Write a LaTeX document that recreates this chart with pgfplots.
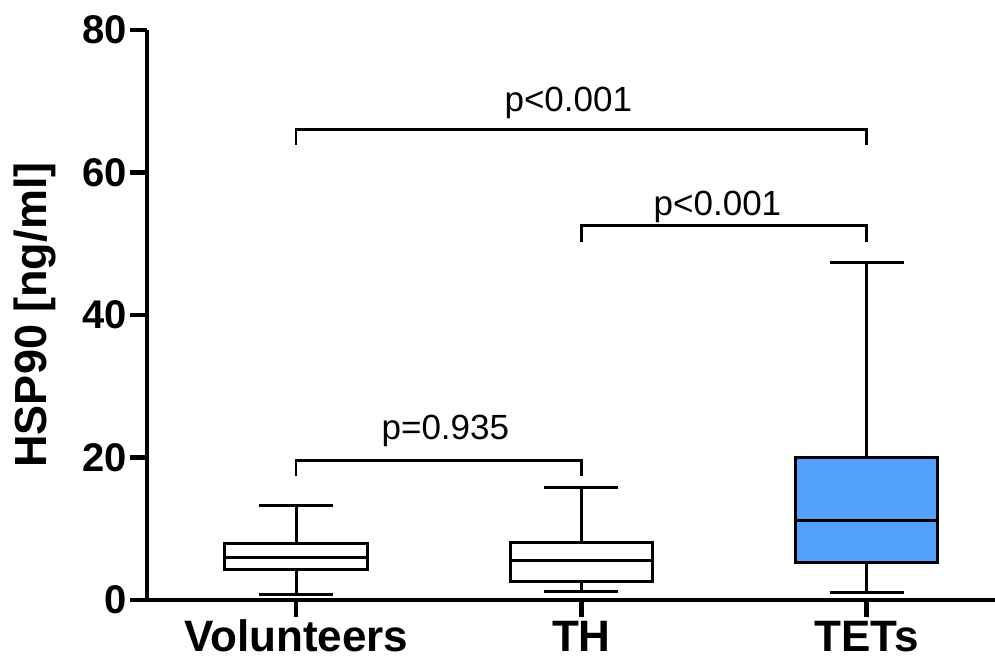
\documentclass[border=0pt]{standalone}
\usepackage{pgfplots}
\pgfplotsset{compat=1.18}
\usepgfplotslibrary{statistics}
\usetikzlibrary{calc}
\usepackage{fontspec}
\setmainfont{Liberation Sans}
\definecolor{tetblue}{RGB}{83,160,253}

\begin{document}
\begin{tikzpicture}
\begin{axis}[
    name=ax,
    scale only axis,
    width=424pt, height=285pt,
    xmin=-0.523, xmax=2.45,
    ymin=0, ymax=80,
    axis lines*=left,
    axis line style={line width=2.4pt},
    xtick={0,1,2},
    xticklabels={Volunteers,TH,TETs},
    ytick={0,20,40,60,80},
    minor tick num=0,
    tick align=outside,
    major tick length=8.5pt,
    tick style={line width=2.2pt, black},
    /pgf/number format/assume math mode=true,
    yticklabel style={font=\fontsize{20}{22}\selectfont\bfseries, inner sep=1.5pt},
    xticklabel style={font=\fontsize{22}{24}\selectfont\bfseries, inner sep=1pt,
        anchor=north, text height=16pt, text depth=0pt},
    ylabel={HSP90 [ng/ml]},
    ylabel style={font=\fontsize{22.5}{24}\selectfont\bfseries, at={(axis description cs:-0.132,0.5)}, anchor=center},
    boxplot/draw direction=y,
    boxplot/box extend=0.5,
    boxplot/whisker extend=0.26,
    clip=false,
]
\addplot[boxplot prepared={lower whisker=0.8, lower quartile=4.3, median=6.0,
    upper quartile=7.9, upper whisker=13.2, draw position=0},
    draw=black, fill=white, line width=1.5pt] coordinates {};
\addplot[boxplot prepared={lower whisker=1.2, lower quartile=2.6, median=5.5,
    upper quartile=8.0, upper whisker=15.8, draw position=1},
    draw=black, fill=white, line width=1.5pt] coordinates {};
\addplot[boxplot prepared={lower whisker=1.1, lower quartile=5.2, median=11.2,
    upper quartile=20.0, upper whisker=47.4, draw position=2},
    draw=black, fill=tetblue, line width=1.5pt] coordinates {};

% significance brackets
\draw[line width=1.3pt] (axis cs:0,17.4) -- (axis cs:0,19.6) -- (axis cs:1,19.6) -- (axis cs:1,17.4);
\draw[line width=1.3pt] (axis cs:1,50.2) -- (axis cs:1,52.6) -- (axis cs:2,52.6) -- (axis cs:2,50.2);
\draw[line width=1.3pt] (axis cs:0,63.9) -- (axis cs:0,66.0) -- (axis cs:2,66.0) -- (axis cs:2,63.9);
\node[anchor=base, font=\fontsize{17.5}{19}\selectfont] at (axis cs:0.523,22.5) {p=0.935};
\node[anchor=base, font=\fontsize{17.5}{19}\selectfont] at (axis cs:1.477,53.9) {p<0.001};
\node[anchor=base, font=\fontsize{17.5}{19}\selectfont] at (axis cs:0.954,68.6) {p<0.001};
\end{axis}
\pgfresetboundingbox
\useasboundingbox ($(ax.south west)+(-73.5pt,-30pt)$) rectangle ($(ax.north east)+(0,15pt)$);
\end{tikzpicture}
\end{document}
